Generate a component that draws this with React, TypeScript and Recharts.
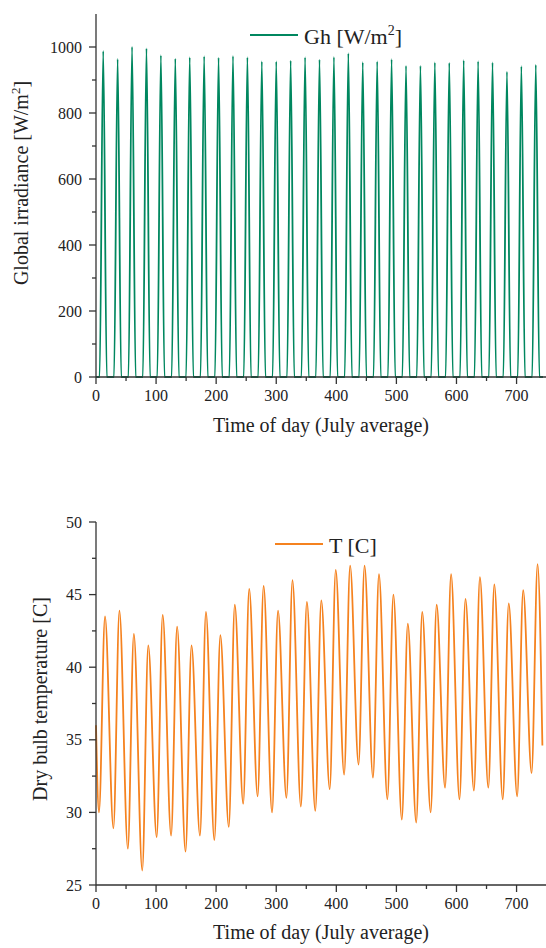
import { LineChart, Line, XAxis, YAxis, Legend, Label } from 'recharts';

const FONT = '"Liberation Serif", "Times New Roman", serif';
const GREEN = '#00875f';
const ORANGE = '#f5821f';
const AXIS = '#333';
const TEXT = '#222';

// daily peak of global irradiance, W/m2 (31 days of July)
const ghPeak = [
  988, 964, 1001, 996, 975, 965, 969, 972, 968, 973, 969, 956, 956, 959, 969, 962,
  970, 981, 954, 956, 963, 943, 943, 953, 952, 960, 957, 953, 925, 942, 946,
];

// daily max / min dry bulb temperature, C
const tMax = [
  43.5, 43.9, 42.3, 41.5, 43.6, 42.8, 41.5, 43.8, 42.2, 44.3, 45.4, 45.6, 43.9, 46.0, 44.5, 44.6,
  46.7, 47.0, 47.0, 46.4, 45.0, 43.0, 43.8, 44.3, 46.4, 44.7, 46.2, 45.7, 44.4, 45.3, 47.1,
];
const tMin = [
  30.0, 28.9, 27.5, 26.0, 28.3, 28.4, 27.3, 28.4, 28.1, 29.0, 30.6, 31.1, 30.0, 31.0, 30.4, 30.1,
  31.6, 32.6, 33.3, 32.4, 30.9, 29.5, 29.3, 30.0, 31.7, 30.9, 31.5, 31.7, 30.9, 31.1, 32.7,
];
const tFirst = 36.0;
const tLast = 34.6;

// hour of day for the key points
const SUNRISE = 6;
const NOON = 12;
const SUNSET = 18;
const T_LOW_HOUR = 5;
const T_HIGH_HOUR = 15;
const HOURS = 744;

const xMajor = [0, 100, 200, 300, 400, 500, 600, 700];
const xMinor = [50, 150, 250, 350, 450, 550, 650];
const ghMajor = [0, 200, 400, 600, 800, 1000];
const ghMinor = [100, 300, 500, 700, 900];
const tMajor = [25, 30, 35, 40, 45, 50];
const tMinor = [27.5, 32.5, 37.5, 42.5, 47.5];

const ghData: { t: number; gh: number }[] = [{ t: 0, gh: 0 }];
ghPeak.forEach((p, d) => {
  ghData.push({ t: d * 24 + SUNRISE, gh: 0 }, { t: d * 24 + NOON, gh: p }, { t: d * 24 + SUNSET, gh: 0 });
});
ghData.push({ t: HOURS, gh: 0 });

const tData: { t: number; temp: number }[] = [{ t: 0, temp: tFirst }];
tMin.forEach((lo, d) => {
  tData.push({ t: d * 24 + T_LOW_HOUR, temp: lo }, { t: d * 24 + T_HIGH_HOUR, temp: tMax[d] });
});
tData.push({ t: HOURS - 1, temp: tLast });

const xTick = (props: any) => {
  const { x, y, payload } = props;
  const major = xMajor.includes(payload.value);
  return (
    <g>
      <line x1={x} x2={x} y1={y} y2={y + (major ? 7 : 4)} stroke={AXIS} strokeWidth={1.3} />
      {major && (
        <text x={x} y={y + 24} textAnchor="middle" fontSize={16} fontFamily={FONT} fill={TEXT}>
          {payload.value}
        </text>
      )}
    </g>
  );
};

const yTick = (majors: number[]) => (props: any) => {
  const { x, y, payload } = props;
  const major = majors.includes(payload.value);
  return (
    <g>
      <line x1={x - (major ? 7 : 4)} x2={x} y1={y} y2={y} stroke={AXIS} strokeWidth={1.3} />
      {major && (
        <text x={x - 14} y={y + 5.5} textAnchor="end" fontSize={16} fontFamily={FONT} fill={TEXT}>
          {payload.value}
        </text>
      )}
    </g>
  );
};

const yTitle = (text: React.ReactNode, x: number, y: number) => () => (
  <text
    x={x}
    y={y}
    transform={`rotate(-90, ${x}, ${y})`}
    textAnchor="middle"
    fontSize={20}
    fontFamily={FONT}
    fill={TEXT}
  >
    {text}
  </text>
);

const legendBox = (label: React.ReactNode, color: string) => () => (
  <svg width={200} height={30} style={{ display: 'block', overflow: 'visible' }}>
    <line x1={0} x2={48} y1={15} y2={15} stroke={color} strokeWidth={2} />
    <text x={54} y={24} fontSize={22} fontFamily={FONT} fill={TEXT}>
      {label}
    </text>
  </svg>
);

const xTitle = 'Time of day (July average)';

export default function App() {
  return (
    <div style={{ position: 'absolute', left: 0, top: 0, width: 546, height: 948, background: '#fff' }}>
      <div style={{ position: 'absolute', left: 0, top: 0 }}>
        <LineChart width={546} height={440} data={ghData} margin={{ top: 14, right: 0, left: 0, bottom: 0 }}>
          <XAxis
            dataKey="t"
            type="number"
            domain={[0, 749]}
            ticks={[...xMajor, ...xMinor]}
            interval={0}
            height={63}
            tickSize={0}
            tickMargin={0}
            tickLine={false}
            tick={xTick}
            axisLine={{ stroke: AXIS, strokeWidth: 1.3 }}
          >
            <Label
              content={() => (
                <text x={321} y={432} textAnchor="middle" fontSize={20} fontFamily={FONT} fill={TEXT}>
                  {xTitle}
                </text>
              )}
            />
          </XAxis>
          <XAxis
            xAxisId="top"
            orientation="top"
            type="number"
            domain={[0, 749]}
            height={0}
            tick={false}
            tickLine={false}
            axisLine={{ stroke: '#555', strokeWidth: 1.6 }}
          />
          <YAxis
            type="number"
            domain={[0, 1100]}
            ticks={[...ghMajor, ...ghMinor]}
            interval={0}
            width={96}
            tickSize={0}
            tickMargin={0}
            tickLine={false}
            tick={yTick(ghMajor)}
            axisLine={{ stroke: AXIS, strokeWidth: 1.3 }}
          >
            <Label
              content={yTitle(
                <>
                  Global irradiance [W/m<tspan dy={-8} fontSize={13}>2</tspan>
                  <tspan dy={8}>]</tspan>
                </>,
                28,
                183,
              )}
            />
          </YAxis>
          <Legend
            layout="horizontal"
            verticalAlign="middle"
            align="center"
            wrapperStyle={{ left: 250, top: 20, width: 200, height: 30 }}
            content={legendBox(
              <>
                Gh [W/m<tspan dy={-9} fontSize={14}>2</tspan>
                <tspan dy={9}>]</tspan>
              </>,
              GREEN,
            )}
          />
          <Line
            type="monotone"
            dataKey="gh"
            stroke={GREEN}
            strokeWidth={1.8}
            dot={false}
            isAnimationActive={false}
          />
        </LineChart>
      </div>

      <div style={{ position: 'absolute', left: 0, top: 470 }}>
        <LineChart width={546} height={478} data={tData} margin={{ top: 52, right: 0, left: 0, bottom: 0 }}>
          <XAxis
            dataKey="t"
            type="number"
            domain={[0, 749]}
            ticks={[...xMajor, ...xMinor]}
            interval={0}
            height={63}
            tickSize={0}
            tickMargin={0}
            tickLine={false}
            tick={xTick}
            axisLine={{ stroke: AXIS, strokeWidth: 1.3 }}
          >
            <Label
              content={() => (
                <text x={321} y={469} textAnchor="middle" fontSize={20} fontFamily={FONT} fill={TEXT}>
                  {xTitle}
                </text>
              )}
            />
          </XAxis>
          <XAxis
            xAxisId="top"
            orientation="top"
            type="number"
            domain={[0, 749]}
            height={0}
            tick={false}
            tickLine={false}
            axisLine={{ stroke: '#555', strokeWidth: 1.6 }}
          />
          <YAxis
            type="number"
            domain={[25, 50]}
            ticks={[...tMajor, ...tMinor]}
            interval={0}
            width={96}
            tickSize={0}
            tickMargin={0}
            tickLine={false}
            tick={yTick(tMajor)}
            axisLine={{ stroke: AXIS, strokeWidth: 1.3 }}
          >
            <Label content={yTitle('Dry bulb temperature [C]', 47, 229)} />
          </YAxis>
          <Legend
            layout="horizontal"
            verticalAlign="middle"
            align="center"
            wrapperStyle={{ left: 275, top: 59, width: 200, height: 30 }}
            content={legendBox('T [C]', ORANGE)}
          />
          <Line
            type="monotone"
            dataKey="temp"
            stroke={ORANGE}
            strokeWidth={1.8}
            dot={false}
            isAnimationActive={false}
          />
        </LineChart>
      </div>
    </div>
  );
}
